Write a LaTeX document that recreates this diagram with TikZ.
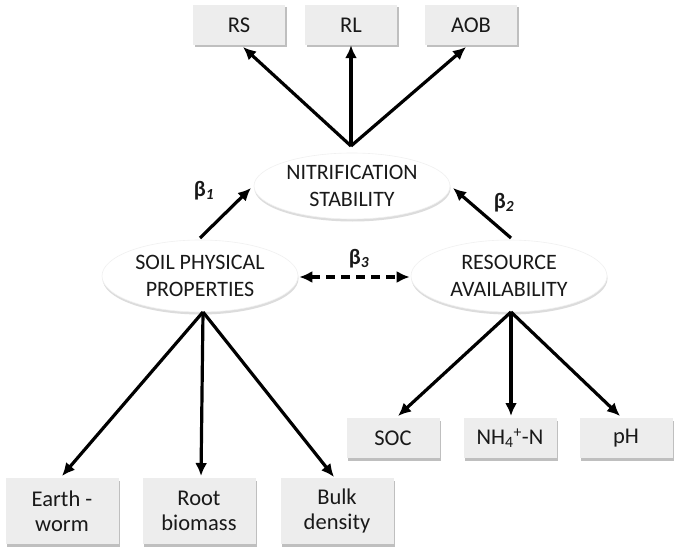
\documentclass[tikz,border=0pt]{standalone}
\usepackage{fontspec}
\setmainfont{Carlito}
\usetikzlibrary{shapes.geometric,shadows,arrows.meta}
\begin{document}
\begin{tikzpicture}[x=1pt,y=-1pt,
  box/.style={draw=none,fill=black!7,minimum width=92pt,minimum height=40pt,inner sep=1pt,align=center,font=\fontsize{22.5}{25}\selectfont,text=black!90,
    drop shadow={shadow xshift=1.5pt,shadow yshift=-2.5pt,fill=black!45,opacity=0.55}},
  tallbox/.style={box,minimum width=113pt,minimum height=66pt},
  ell/.style={ellipse,draw=black!6,line width=0.6pt,fill=white,inner sep=0pt,align=center,font=\fontsize{22}{27}\selectfont,text=black!90,
    drop shadow={shadow xshift=0.5pt,shadow yshift=-2.5pt,fill=black!30,opacity=0.45}},
  arr/.style={line width=3.2pt,-{Latex[length=13pt,width=12pt]}},
  beta/.style={font=\fontsize{22}{24}\selectfont\bfseries,text=black!90}]
\useasboundingbox (0,0) rectangle (685,556);
\fill[white] (0,0) rectangle (685,556);
% top boxes
\node[box] (rs) at (239,25) {RS};
\node[box] (rl) at (351,25) {RL};
\node[box] (aob) at (471,25) {AOB};
% ellipses
\node[ell,minimum width=196pt,minimum height=66pt] (ns) at (352,186) {NITRIFICATION\\STABILITY};
\node[ell,minimum width=196pt,minimum height=72pt] (sp) at (200,276) {SOIL PHYSICAL\\PROPERTIES};
\node[ell,minimum width=196pt,minimum height=72pt] (ra) at (509,276) {RESOURCE\\AVAILABILITY};
% bottom left boxes
\node[tallbox] (ew) at (62,511) {Earth -\\worm};
\node[tallbox] (rb) at (199,511) {Root\\biomass};
\node[tallbox] (bd) at (337,511) {Bulk\\density};
% bottom right boxes
\node[box,minimum width=93pt] (soc) at (393,438) {SOC};
\node[box,minimum width=93pt] (nh) at (510,438) {NH\textsubscript{4}\textsuperscript{+}-N};
\node[box,minimum width=93pt] (ph) at (626,438) {pH};
% arrows top
\coordinate (apex) at (351,146);
\draw[arr] (apex) -- (243,47);
\draw[arr] (apex) -- (rl.south);
\draw[arr] (apex) -- (466,47);
% beta arrows
\coordinate (s1) at (200,238);
\coordinate (s2) at (511,238);
\draw[arr] (s1) -- (251,188);
\draw[arr] (s2) -- (453,188);
\draw[line width=3.2pt,dash pattern=on 9pt off 6pt,{Latex[length=13pt,width=12pt]}-{Latex[length=13pt,width=12pt]}] ([xshift=1pt,yshift=-1pt]sp.east) -- ([xshift=-1pt,yshift=-1pt]ra.west);
\node[beta] (b1) at (204,191) {β\textsubscript{\textit{1}}};
\node[beta] (b2) at (504,203) {β\textsubscript{\textit{2}}};
\node[beta] (b3) at (359,259) {β\textsubscript{\textit{3}}};
% bottom left arrows
\coordinate (spb) at (203,312);
\draw[arr] (spb) -- (62,476);
\draw[arr] (spb) -- (201,476);
\draw[arr] (spb) -- (334,477);
% bottom right arrows
\coordinate (rab) at (511,312);
\draw[arr] (rab) -- (398,416);
\draw[arr] (rab) -- (511,416);
\draw[arr] (rab) -- (620,416);
\end{tikzpicture}
\end{document}
